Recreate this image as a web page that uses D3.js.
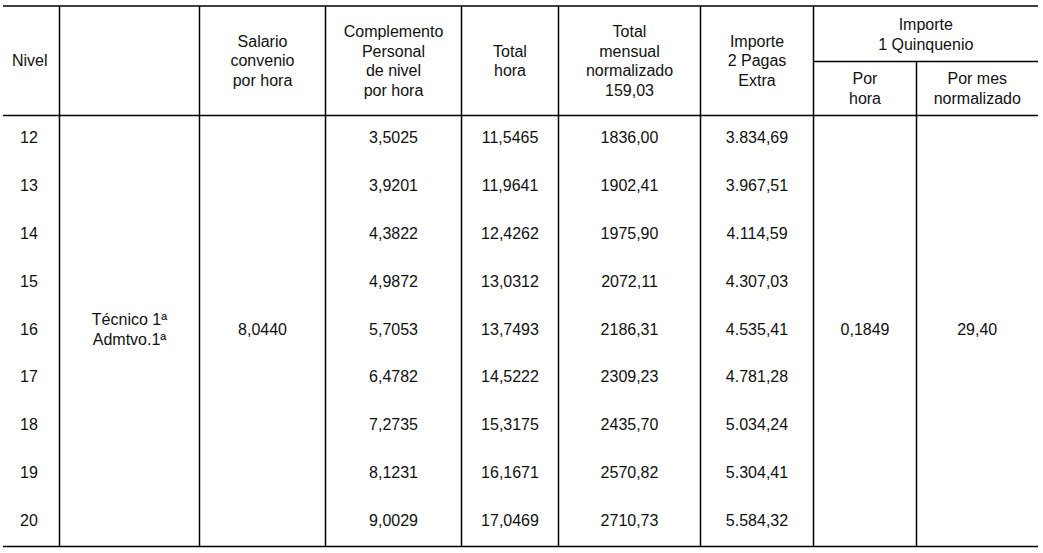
<!DOCTYPE html>
<html><head><meta charset="utf-8">
<script src="https://cdn.jsdelivr.net/npm/d3@7"></script>
<style>body{margin:0;background:#fff}text{font-family:"Liberation Sans",Arial,sans-serif;font-size:16px;fill:#111}</style>
</head><body><svg id="c" width="1043" height="553"></svg>
<script>
const niveles=["12","13","14","15","16","17","18","19","20"];
const complemento=["3,5025","3,9201","4,3822","4,9872","5,7053","6,4782","7,2735","8,1231","9,0029"];
const totalHora=["11,5465","11,9641","12,4262","13,0312","13,7493","14,5222","15,3175","16,1671","17,0469"];
const totalMensual=["1836,00","1902,41","1975,90","2072,11","2186,31","2309,23","2435,70","2570,82","2710,73"];
const pagasExtra=["3.834,69","3.967,51","4.114,59","4.307,03","4.535,41","4.781,28","5.034,24","5.304,41","5.584,32"];
const categoria=["Técnico 1ª","Admtvo.1ª"];
const salario="8,0440", quinqHora="0,1849", quinqMes="29,40";
const headers=[["Nivel"],[],["Salario","convenio","por hora"],["Complemento","Personal","de nivel","por hora"],["Total","hora"],["Total","mensual","normalizado","159,03"],["Importe","2 Pagas","Extra"]];
const colEdges=[0,59.5,199.5,325.5,461.5,558.5,700.5,813.5,916.5,1038];
const svg=d3.select("#c");
const yTop=6,hb=115.5,sub=61.5,bot=546.5;
const y=d3.scaleBand().domain(niveles).range([hb,bot]);
const cx=i=>(colEdges[i]+colEdges[i+1])/2;
const line=(x1,y1,x2,y2)=>svg.append("line").attr("x1",x1).attr("y1",y1).attr("x2",x2).attr("y2",y2).attr("stroke","#000").attr("stroke-width",1.5);
line(3,yTop,1038,yTop);line(3,hb,1038,hb);line(3,bot,1038,bot);line(813.5,sub,1038,sub);
[1,2,3,4,5,6,7].forEach(i=>line(colEdges[i],yTop,colEdges[i],bot));
line(colEdges[8],sub,colEdges[8],bot);
const txt=(x,yy,t)=>svg.append("text").attr("x",x).attr("y",yy).attr("text-anchor","middle").attr("dominant-baseline","central").text(t);
const lh=19.5, hc=(yTop+hb)/2;
headers.forEach((h,i)=>{h.forEach((t,j)=>txt(cx(i),hc+(j-(h.length-1)/2)*lh,t));});
txt((813.5+1038)/2,24,"Importe");txt((813.5+1038)/2,44,"1 Quinquenio");
txt(cx(7),78,"Por");txt(cx(7),98,"hora");
txt(cx(8),78,"Por mes");txt(cx(8),98,"normalizado");
const cols=[niveles,null,null,complemento,totalHora,totalMensual,pagasExtra];
cols.forEach((arr,i)=>{if(!arr)return;arr.forEach((v,k)=>txt(i==0?29:cx(i),y(niveles[k])+y.bandwidth()/2-2,v));});
const mid=y("16")+y.bandwidth()/2-2;
txt(cx(1),mid-10,categoria[0]);txt(cx(1),mid+10,categoria[1]);
txt(cx(2),mid,salario);txt(cx(7),mid,quinqHora);txt(cx(8),mid,quinqMes);
</script></body></html>
